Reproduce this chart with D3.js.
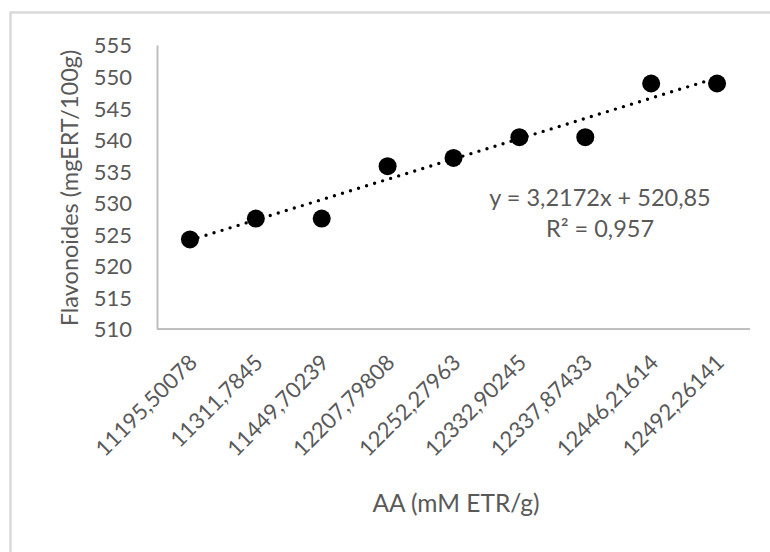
<!DOCTYPE html>
<html>
<head>
<meta charset="utf-8">
<script src="https://cdn.jsdelivr.net/npm/d3@7"></script>
<style>
  html, body { margin: 0; padding: 0; background: #fff; }
  svg { display: block; }
  text { font-family: Lato, "Open Sans", sans-serif; fill: #595959; }
</style>
</head>
<body>
<svg id="chart" width="770" height="552"></svg>
<script>
// AA (mM ETR/g) categories and flavonoid content per sample
const categories = ["11195,50078", "11311,7845", "11449,70239", "12207,79808", "12252,27963",
                    "12332,90245", "12337,87433", "12446,21614", "12492,26141"];
const flavonoides = [524.2, 527.5, 527.5, 535.8, 537.1, 540.4, 540.4, 548.9, 548.9];
const yTicks = [510, 515, 520, 525, 530, 535, 540, 545, 550, 555];
// Linear trendline over category index (1..n): y = slope * x + intercept
const trendSlope = [3.2172];
const trendIntercept = [520.85];
const trendLabels = ["y = 3,2172x + 520,85", "R² = 0,957"];

const svg = d3.select("#chart");

// chart area frame
svg.append("rect")
  .attr("x", 10.5).attr("y", 12.5)
  .attr("width", 900).attr("height", 700)
  .attr("fill", "none").attr("stroke", "#d9d9d9").attr("stroke-width", 2.5);

const x = d3.scalePoint().domain(categories).range([157, 750]).padding(0.5);
const y = d3.scaleLinear().domain([510, 555]).range([329, 45]);

// y axis
const yAxis = svg.append("g").attr("transform", "translate(157,0)")
  .call(d3.axisLeft(y).tickValues(yTicks).tickSize(0).tickPadding(25).tickFormat(d3.format("d")));
yAxis.select(".domain").attr("stroke", "#bfbfbf").attr("stroke-width", 2);
yAxis.selectAll("text").style("font-size", "22px").attr("fill", "#595959").attr("dy", "0.36em");

// x axis
const xAxis = svg.append("g").attr("transform", "translate(0,329)")
  .call(d3.axisBottom(x).tickSize(0).tickSizeOuter(0));
xAxis.select(".domain").attr("stroke", "#bfbfbf").attr("stroke-width", 2)
  .attr("d", `M${x.range()[0]},0H${x.range()[1]}`);
xAxis.selectAll("text")
  .style("font-size", "22px").attr("fill", "#595959")
  .attr("text-anchor", "end")
  .attr("dy", 0).attr("y", 0)
  .attr("transform", "translate(8,35) rotate(-45)");

// trendline
const idx = [1, categories.length];
const trendPts = idx.map(i => [x(categories[i - 1]), y(trendSlope[0] * i + trendIntercept[0])]);
svg.append("path")
  .attr("d", d3.line()(trendPts))
  .attr("fill", "none").attr("stroke", "#000")
  .attr("stroke-width", 3.4).attr("stroke-linecap", "round")
  .attr("stroke-dasharray", "0 8.4");

// markers
svg.append("g").selectAll("circle")
  .data(flavonoides)
  .join("circle")
  .attr("cx", (d, i) => x(categories[i]))
  .attr("cy", d => y(d))
  .attr("r", 9)
  .attr("fill", "#000");

// trendline equation
const eq = svg.append("text").attr("text-anchor", "middle").style("font-size", "23.5px");
eq.append("tspan").attr("x", 600).attr("y", 206).text(trendLabels[0]);
eq.append("tspan").attr("x", 600).attr("y", 237).text(trendLabels[1]);

// axis titles
svg.append("text")
  .attr("transform", "translate(78,188) rotate(-90)")
  .attr("text-anchor", "middle").style("font-size", "23.5px")
  .text("Flavonoides (mgERT/100g)");
svg.append("text")
  .attr("x", 456).attr("y", 512)
  .attr("text-anchor", "middle").style("font-size", "24.5px")
  .text("AA (mM ETR/g)");
</script>
</body>
</html>
